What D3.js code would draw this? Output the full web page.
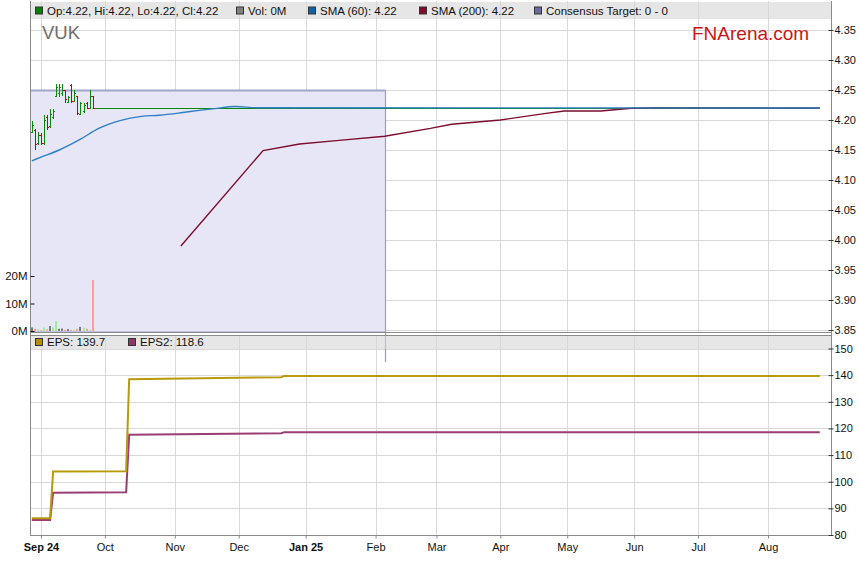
<!DOCTYPE html>
<html><head><meta charset="utf-8">
<script src="https://cdn.jsdelivr.net/npm/d3@7"></script>
<style>
html,body{margin:0;padding:0;background:#fff;}
svg{display:block;font-family:"Liberation Sans",Arial,sans-serif;}
</style></head>
<body><svg id="c" width="859" height="566"></svg>
<script>
// ---------------- DATA ----------------
const ticker = "VUK";
const firstDay = "2024-08-28", lastDay = "2025-08-26";
const candleDates = ["2024-08-28","2024-08-29","2024-08-30","2024-09-02","2024-09-03","2024-09-04","2024-09-05","2024-09-06","2024-09-09","2024-09-10","2024-09-11","2024-09-12","2024-09-13","2024-09-16","2024-09-17","2024-09-18","2024-09-19","2024-09-20","2024-09-23","2024-09-24","2024-09-25"];
const opens  = [4.180,4.183,4.162,4.175,4.162,4.205,4.190,4.205,4.240,4.245,4.245,4.250,4.230,4.258,4.232,4.240,4.210,4.215,4.228,4.220,4.240];
const highs  = [4.198,4.185,4.180,4.178,4.208,4.208,4.218,4.218,4.260,4.260,4.260,4.250,4.240,4.260,4.250,4.240,4.230,4.228,4.230,4.250,4.240];
const lows   = [4.178,4.150,4.158,4.158,4.158,4.183,4.187,4.202,4.238,4.238,4.240,4.228,4.228,4.228,4.230,4.208,4.208,4.212,4.218,4.218,4.218];
const closes = [4.192,4.160,4.175,4.162,4.200,4.188,4.210,4.215,4.255,4.255,4.250,4.235,4.238,4.232,4.245,4.212,4.228,4.225,4.220,4.240,4.220];
const volumesM = [1.3,0.8,0.6,0.3,1.3,0.6,1.8,1.3,3.6,0.8,0.9,0.4,0.7,0.4,0.5,0.8,1.5,1.2,0.8,0.4,18.5];
const volumeDir = ["n","d","u","d","u","d","n","u","u","n","n","d","n","d","u","d","n","u","d","u","d"];
// flat trading after the last active session (no volume)
const flatFrom = "2024-09-25", flatTo = "2025-08-26", flatPrice = 4.22;

const sma60Dates  = ["2024-08-28","2024-09-02","2024-09-10","2024-09-19","2024-09-27","2024-10-08","2024-10-17","2024-10-25","2024-11-05","2024-11-13","2024-11-20","2024-11-29","2024-12-10","2025-08-26"];
const sma60Values = [4.132,4.138,4.150,4.168,4.186,4.199,4.206,4.208,4.212,4.216,4.219,4.2225,4.2205,4.220];
const sma200Dates  = ["2024-11-05","2024-12-12","2024-12-30","2025-01-16","2025-02-06","2025-02-27","2025-03-10","2025-04-01","2025-04-22","2025-04-30","2025-05-16","2025-05-30","2025-06-11","2025-08-26"];
const sma200Values = [3.990,4.149,4.160,4.166,4.173,4.186,4.193,4.200,4.211,4.215,4.215,4.2195,4.2205,4.220];

const consensusFrom = "2024-08-28", consensusTo = "2025-02-06", consensusTop = 4.25;

const epsDates  = ["2024-08-28","2024-09-05","2024-09-06","2024-10-10","2024-10-11","2024-12-20","2024-12-23","2025-08-26"];
const epsValues = [86.3,86.3,103.8,103.9,138.5,139.2,139.7,139.7];
const eps2Values = [85.6,85.6,95.9,96.0,117.6,118.2,118.6,118.6];

const priceTicks = [3.85,3.90,3.95,4.00,4.05,4.10,4.15,4.20,4.25,4.30,4.35];
const volTicks = [0,10,20];
const epsTicks = [80,90,100,110,120,130,140,150];
const monthTickDates = ["2024-09-02","2024-10-01","2024-11-01","2024-12-02","2025-01-01","2025-02-03","2025-03-03","2025-04-01","2025-05-01","2025-06-02","2025-07-01","2025-08-01"];
const monthTickLabels = ["Sep 24","Oct","Nov","Dec","Jan 25","Feb","Mar","Apr","May","Jun","Jul","Aug"];
const legendTop = [
  {c:"#0a7d0a", t:"Op:4.22, Hi:4.22, Lo:4.22, Cl:4.22", x:35},
  {c:"#808080", t:"Vol: 0M", x:236},
  {c:"#0d63a6", t:"SMA (60): 4.22", x:308},
  {c:"#7d0c2e", t:"SMA (200): 4.22", x:419},
  {c:"#6b6b9e", t:"Consensus Target: 0 - 0", x:534}
];
const legendBottom = [
  {c:"#b09000", t:"EPS: 139.7", x:35},
  {c:"#8e3668", t:"EPS2: 118.6", x:128}
];

// ---------------- TRADING-DAY AXIS ----------------
const days = [];
for (let d = new Date(firstDay+"T00:00:00Z"); d <= new Date(lastDay+"T00:00:00Z"); d = new Date(d.getTime()+86400000)) {
  const w = d.getUTCDay(); if (w !== 0 && w !== 6) days.push(d.toISOString().slice(0,10));
}
const dayIdx = new Map(days.map((d,i)=>[d,i]));
const I = s => dayIdx.get(s);

const L = 30, R = 831;
const x = d3.scaleLinear().domain([-0.6, 262.7]).range([L, R]);
const yP = d3.scaleLinear().domain([3.85, 4.35]).range([330, 30]);
const yV = d3.scaleLinear().domain([0, 20]).range([331, 276]);
const yE = d3.scaleLinear().domain([80, 150]).range([535, 348.5]);

const svg = d3.select("#c");
const topY0 = 1, topY1 = 332, botY0 = 335, botY1 = 535;
const grid = "#d9d9d9", frame = "#8a8a8a";

const defs = svg.append("defs");
defs.append("clipPath").attr("id","clipTop").append("rect").attr("x",L).attr("y",topY0).attr("width",R-L).attr("height",topY1-topY0);
defs.append("clipPath").attr("id","clipBot").append("rect").attr("x",L).attr("y",botY0).attr("width",R-L).attr("height",botY1-botY0);

// ---- gridlines ----
const monthIdx = monthTickDates.map(I);
function vgrid(y0,y1){
  svg.append("g").selectAll("line").data(monthIdx).join("line")
    .attr("x1",d=>Math.round(x(d))+0.5).attr("x2",d=>Math.round(x(d))+0.5)
    .attr("y1",y0).attr("y2",y1).attr("stroke",grid).attr("stroke-width",1);
}
vgrid(topY0, topY1); vgrid(botY0, botY1);
svg.append("g").selectAll("line").data(priceTicks).join("line")
  .attr("x1",L).attr("x2",R).attr("y1",d=>Math.round(yP(d))+0.5).attr("y2",d=>Math.round(yP(d))+0.5)
  .attr("stroke",grid);
svg.append("g").selectAll("line").data(epsTicks).join("line")
  .attr("x1",L).attr("x2",R).attr("y1",d=>Math.round(yE(d))+0.5).attr("y2",d=>Math.round(yE(d))+0.5)
  .attr("stroke",grid);

// ---- consensus box ----
const bx1 = Math.round(x(I(consensusTo)))+0.5;
svg.append("rect").attr("x",L+0.5).attr("y",Math.round(yP(consensusTop))+0.5)
  .attr("width",bx1-L-0.5).attr("height",topY1-Math.round(yP(consensusTop))-0.5)
  .attr("fill","#e6e6f6").attr("stroke","#9c9cc4").attr("stroke-width",1);
svg.append("line").attr("x1",L).attr("x2",bx1).attr("y1",Math.round(yP(consensusTop))+0.5).attr("y2",Math.round(yP(consensusTop))+0.5)
  .attr("stroke","#a2a4cc").attr("stroke-width",2);
svg.append("line").attr("x1",bx1).attr("x2",bx1).attr("y1",yP(consensusTop)).attr("y2",362)
  .attr("stroke","#9c9cc4").attr("stroke-width",1.2);

// ---- legend bars ----
function legendBar(y, h, items){
  svg.append("rect").attr("x",L).attr("y",y).attr("width",R-L).attr("height",h).attr("fill","rgba(214,214,214,0.6)");
  const g = svg.append("g");
  items.forEach(it=>{
    g.append("rect").attr("x",it.x+0.5).attr("y",y+h/2-3.5).attr("width",7).attr("height",7)
      .attr("fill",it.c).attr("stroke","#333").attr("stroke-width",1);
    g.append("text").attr("x",it.x+12).attr("y",y+h/2+4).attr("font-size",11.5).attr("fill","#111").text(it.t);
  });
}
legendBar(topY0+1, 17, legendTop);
legendBar(botY0, 14, legendBottom);

// ---- title & brand ----
svg.append("text").attr("x",42).attr("y",39).attr("font-size",18.5).attr("fill","#6e6e6e").text(ticker);
svg.append("text").attr("x",692).attr("y",40).attr("font-size",19).attr("fill","#cc1616").text("FNArena.com");

// ---- volume ----
const volColor = {u:"#9bee9b", d:"#ff9c9c", n:"#7b7b7b"};
svg.append("g").attr("clip-path","url(#clipTop)").selectAll("rect").data(volumesM).join("rect")
  .attr("x",(d,i)=>Math.round(x(I(candleDates[i])))-1).attr("width",2)
  .attr("y",d=>yV(d)).attr("height",d=>yV(0)-yV(d))
  .attr("fill",(d,i)=>volColor[volumeDir[i]]);

// ---- flat price ----
svg.append("line").attr("x1",x(I(flatFrom))).attr("x2",x(I(flatTo)))
  .attr("y1",Math.round(yP(flatPrice))+0.5).attr("y2",Math.round(yP(flatPrice))+0.5)
  .attr("stroke","#0a8a0a").attr("stroke-width",1.2);

// ---- candles (OHLC bars) ----
const cg = svg.append("g").attr("clip-path","url(#clipTop)").attr("shape-rendering","crispEdges");
candleDates.forEach((dt,i)=>{
  const cx = Math.round(x(I(dt)))+0.5;
  const col = closes[i] >= opens[i] ? "#0a8a0a" : "#d00000";
  cg.append("line").attr("x1",cx).attr("x2",cx).attr("y1",yP(highs[i])).attr("y2",yP(lows[i])).attr("stroke",col);
  cg.append("line").attr("x1",cx-1.5).attr("x2",cx).attr("y1",Math.round(yP(opens[i]))+0.5).attr("y2",Math.round(yP(opens[i]))+0.5).attr("stroke",col);
  cg.append("line").attr("x1",cx).attr("x2",cx+1.5).attr("y1",Math.round(yP(closes[i]))+0.5).attr("y2",Math.round(yP(closes[i]))+0.5).attr("stroke",col);
});

// ---- SMA lines ----
svg.append("path").attr("clip-path","url(#clipTop)").datum(d3.zip(sma200Dates, sma200Values))
  .attr("d", d3.line().x(d=>x(I(d[0]))).y(d=>yP(d[1])))
  .attr("fill","none").attr("stroke","#7d0c2e").attr("stroke-width",1.4);
svg.append("path").attr("clip-path","url(#clipTop)").datum(d3.zip(sma60Dates, sma60Values))
  .attr("d", d3.line().x(d=>x(I(d[0]))).y(d=>yP(d[1])).curve(d3.curveMonotoneX))
  .attr("fill","none").attr("stroke","#2f7fc4").attr("stroke-width",1.4);

// ---- EPS lines ----
const lineL = d3.line().x(d=>x(I(d[0]))).y(d=>yE(d[1]));
svg.append("path").attr("clip-path","url(#clipBot)").datum(d3.zip(epsDates, eps2Values))
  .attr("d", lineL).attr("fill","none").attr("stroke","#9a3d73").attr("stroke-width",2);
svg.append("path").attr("clip-path","url(#clipBot)").datum(d3.zip(epsDates, epsValues))
  .attr("d", lineL).attr("fill","none").attr("stroke","#b89a0c").attr("stroke-width",2);

// ---- frames ----
svg.append("line").attr("x1",L+0.5).attr("x2",L+0.5).attr("y1",topY0).attr("y2",botY1).attr("stroke",frame);
svg.append("line").attr("x1",R+0.5).attr("x2",R+0.5).attr("y1",topY0).attr("y2",botY1).attr("stroke",frame);
svg.append("line").attr("x1",L).attr("x2",R).attr("y1",topY1+0.5).attr("y2",topY1+0.5).attr("stroke",frame);
svg.append("line").attr("x1",L).attr("x2",R).attr("y1",botY0+0.5).attr("y2",botY0+0.5).attr("stroke",frame);
svg.append("line").attr("x1",L).attr("x2",R).attr("y1",botY1+0.5).attr("y2",botY1+0.5).attr("stroke",frame);

// ---- axes ----
function styleAxis(g){
  g.select(".domain").remove();
  g.selectAll(".tick line").attr("stroke","#333");
  g.selectAll("text").attr("fill","#111").attr("font-family","Liberation Sans, Arial, sans-serif");
}
const axP = svg.append("g").attr("transform",`translate(${R+0.5},0)`)
  .call(d3.axisRight(yP).tickValues(priceTicks).tickFormat(d3.format(".2f")).tickSize(2).tickPadding(1));
axP.selectAll(".tick line").attr("x1",-3);
axP.selectAll("text").attr("font-size",11);
styleAxis(axP);
const axE = svg.append("g").attr("transform",`translate(${R+0.5},0)`)
  .call(d3.axisRight(yE).tickValues(epsTicks).tickFormat(d3.format("d")).tickSize(2).tickPadding(1));
axE.selectAll(".tick line").attr("x1",-3);
axE.selectAll("text").attr("font-size",11);
styleAxis(axE);
const axV = svg.append("g").attr("transform",`translate(${L+0.5},0)`)
  .call(d3.axisLeft(yV).tickValues(volTicks).tickFormat(d=>d+"M").tickSize(0).tickPadding(3));
axV.selectAll(".tick").append("line").attr("x1",0).attr("x2",4);
axV.selectAll("text").attr("font-size",11.5);
styleAxis(axV);
axV.selectAll(".tick line").attr("stroke","#111");
const axX = svg.append("g").attr("transform",`translate(0,${botY1+0.5})`)
  .call(d3.axisBottom(x).tickValues(monthIdx).tickFormat((d,i)=>monthTickLabels[i]).tickSize(3).tickPadding(5));
axX.selectAll("text").attr("font-size",11).attr("font-weight",(d,i)=>/\d/.test(monthTickLabels[i])?"bold":"normal");
styleAxis(axX);
axX.selectAll(".tick line").attr("stroke","#888");
</script></body></html>
